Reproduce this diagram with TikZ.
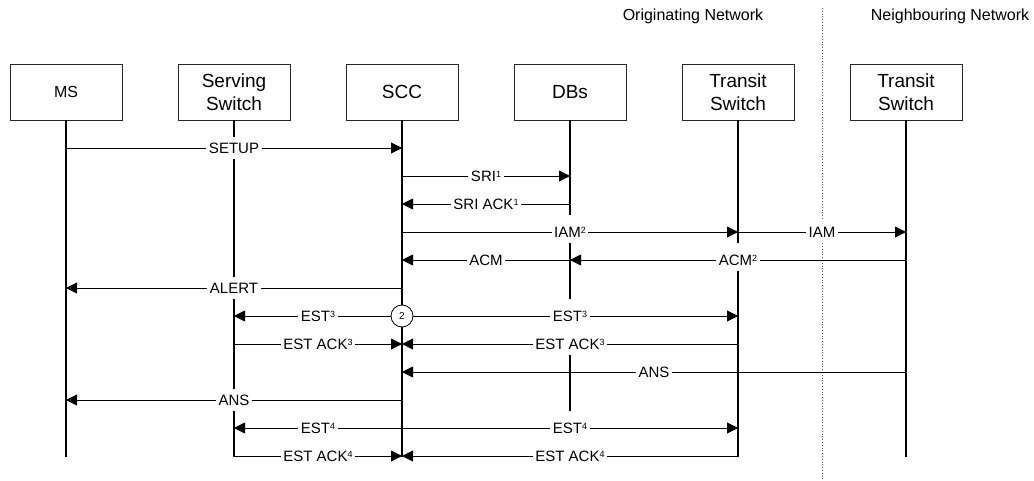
\documentclass[tikz,border=0pt]{standalone}
\usepackage{fontspec}
\setmainfont{Liberation Sans}
\usetikzlibrary{arrows.meta}
% small raised index used in message names (with a strut for a taller label box)
\newcommand\msgidx[1]{\rule{0pt}{16.5pt}\raisebox{4.3pt}{\fontsize{9}{10}\selectfont #1}}
\begin{document}
\begin{tikzpicture}[x=1pt,y=-1pt,
  actor/.style={draw=black!85, line width=0.8pt, fill=white,
    minimum width=112pt, minimum height=56pt, inner sep=0pt,
    align=center, font=\fontsize{19}{23}\selectfont},
  lifeline/.style={line width=1.5pt},
  msg/.style={line width=0.9pt, -{Triangle[length=11pt,width=11pt]}},
  lbl/.style={fill=white, inner xsep=2.5pt, inner ysep=6pt,
    text depth=0pt, anchor=base, yshift=-5.4pt,
    font=\fontsize{15}{18}\selectfont},
  netlbl/.style={font=\fontsize{16}{19}\selectfont},
  boundary/.style={black!65, line width=0.8pt, dotted},
  marker/.style={draw, circle, fill=white, line width=0.8pt,
    minimum size=22pt, inner sep=0pt, font=\fontsize{10}{12}\selectfont},
]
\useasboundingbox (0,0) rectangle (1034,481);

% participants
\node[actor, font=\fontsize{16}{19}\selectfont] (ms) at (66,92) {MS};
\node[actor] (ss)  at (234,92) {Serving\\Switch};
\node[actor] (scc) at (402,92) {SCC};
\node[actor] (db)  at (570,92) {DBs};
\node[actor] (ts)  at (738,92) {Transit\\Switch};
\node[actor] (nts) at (906,92) {Transit\\Switch};

% network headings and border
\node[netlbl] (orig)  at (693,16) {Originating Network};
\node[netlbl] (neigh) at (950,16) {Neighbouring Network};
\coordinate (bt) at (822,8);
\coordinate (bb) at (822,481);
\draw[boundary] (bt) -- (bb);

% message rows
\foreach \i/\y in {1/148,2/176,3/204,4/232,5/260,6/288,7/316,8/344,9/372,10/400,11/428,12/456}
  \coordinate (r\i) at (0,\y);
\coordinate (end) at (0,456.5);

% lifelines
\foreach \p in {ms,ss,scc,db,ts,nts}
  \draw[lifeline] (\p.south) -- (\p |- end);

% messages
\draw[msg] (ms |- r1)  -- node[lbl] {SETUP} (scc |- r1);
\draw[msg] (scc |- r2) -- node[lbl] {SRI\msgidx{1}} (db |- r2);
\draw[msg] (db |- r3)  -- node[lbl] {SRI ACK\msgidx{1}} (scc |- r3);
\draw[msg] (scc |- r4) -- node[lbl] {IAM\msgidx{2}} (ts |- r4);
\draw[msg] (ts |- r4)  -- node[lbl] {IAM} (nts |- r4);
\draw[msg] (nts |- r5) -- node[lbl] {ACM\msgidx{2}} (db |- r5);
\draw[msg] (db |- r5)  -- node[lbl] {ACM} (scc |- r5);
\draw[msg] (scc |- r6) -- node[lbl] {ALERT} (ms |- r6);
\draw[msg] (scc |- r7) -- node[lbl] {EST\msgidx{3}} (ss |- r7);
\draw[msg] (scc |- r7) -- node[lbl] {EST\msgidx{3}} (ts |- r7);
\draw[msg] (ss |- r8)  -- node[lbl] {EST ACK\msgidx{3}} (scc |- r8);
\draw[msg] (ts |- r8)  -- node[lbl] {EST ACK\msgidx{3}} (scc |- r8);
\draw[msg] (nts |- r9) -- node[lbl] {ANS} (scc |- r9);
\draw[msg] (scc |- r10) -- node[lbl] {ANS} (ms |- r10);
\draw[msg] (scc |- r11) -- node[lbl] {EST\msgidx{4}} (ss |- r11);
\draw[msg] (scc |- r11) -- node[lbl] {EST\msgidx{4}} (ts |- r11);
\draw[msg] (ss |- r12)  -- node[lbl] {EST ACK\msgidx{4}} (scc |- r12);
\draw[msg] (ts |- r12)  -- node[lbl] {EST ACK\msgidx{4}} (scc |- r12);

% branching point on the SCC lifeline
\node[marker] (c2) at (scc |- r7) {2};
\end{tikzpicture}
\end{document}
